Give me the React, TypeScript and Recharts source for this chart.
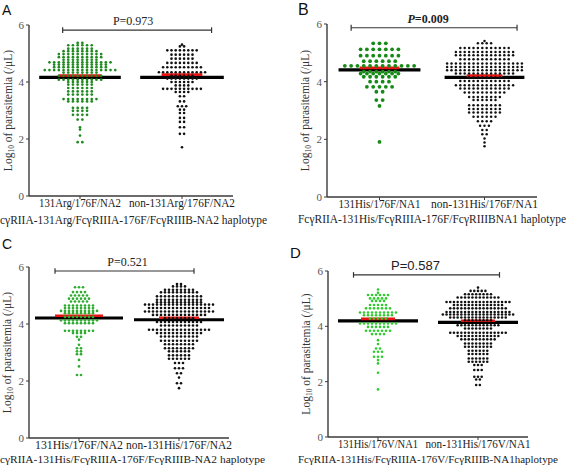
import React from 'react';
import { ScatterChart, Scatter, XAxis, YAxis, ReferenceLine } from 'recharts';

type Row = [number, number]; // [log10 parasitemia, number of subjects in that swarm row]

// ---------- Panel A ----------
const aCategories = ['131Arg/176F/NA2', 'non-131Arg/176F/NA2'];
const aGroup1Rows: Row[] = [
  [5.37, 2], [5.29, 6], [5.17, 6], [5.08, 8], [4.98, 10], [4.87, 10], [4.78, 8], [4.69, 14],
  [4.61, 12], [4.52, 12], [4.42, 16], [4.33, 8], [4.22, 10], [4.08, 10], [4.0, 6], [3.91, 6],
  [3.79, 6], [3.67, 6], [3.56, 6], [3.4, 8], [3.32, 6], [3.09, 4], [2.99, 4], [2.85, 4],
  [2.68, 2], [2.41, 1], [2.33, 1], [2.12, 1], [1.89, 2],
];
const aGroup2Rows: Row[] = [
  [5.31, 1], [5.25, 2], [5.11, 8], [4.96, 6], [4.82, 6], [4.67, 8], [4.52, 10], [4.34, 12],
  [4.22, 6], [4.12, 8], [4.0, 6], [3.88, 4], [3.76, 10], [3.65, 4], [3.5, 2], [3.32, 2],
  [3.15, 3], [3.03, 2], [2.91, 2], [2.74, 2], [2.6, 2], [2.41, 2], [2.18, 2], [1.71, 1],
];
const aMedians = [4.16, 4.16];
const aMeans = [4.23, 4.26];
const aPValue = 'P=0.973';
const aHaplotype = 'cγRIIA-131Arg/FcγRIIIA-176F/FcγRIIIB-NA2 haplotype';

// ---------- Panel B ----------
const bCategories = ['131His/176F/NA1', 'non-131His/176F/NA1'];
const bGroup1Rows: Row[] = [
  [5.33, 3], [5.12, 7], [4.9, 7], [4.71, 6], [4.55, 12], [4.35, 6], [4.28, 7], [4.17, 6],
  [4.0, 4], [3.82, 5], [3.65, 2], [3.36, 2], [3.16, 1], [1.91, 1],
];
const bGroup2Rows: Row[] = [
  [5.41, 1], [5.33, 4], [5.17, 12], [5.03, 14], [4.92, 14], [4.78, 12], [4.63, 18], [4.51, 18],
  [4.4, 18], [4.28, 14], [4.15, 8], [4.02, 12], [3.88, 14], [3.76, 12], [3.62, 10], [3.47, 8],
  [3.36, 6], [3.18, 8], [3.05, 8], [2.93, 8], [2.78, 6], [2.63, 4], [2.47, 3], [2.32, 2],
  [2.18, 2], [2.03, 1], [1.89, 1], [1.76, 1],
];
const bMedians = [4.41, 4.15];
const bMeans = [4.48, 4.21];
const bPValue = '=0.009';
const bHaplotype = 'FcγRIIA-131His/FcγRIIIA-176F/FcγRIIIBNA1 haplotype';

// ---------- Panel C ----------
const cCategories = ['131His/176F/NA2', 'non-131His/176F/NA2'];
const cGroup1Rows: Row[] = [
  [5.29, 3], [5.12, 4], [5.0, 5], [4.89, 6], [4.79, 5], [4.65, 8], [4.56, 8], [4.46, 10],
  [4.38, 8], [4.25, 8], [4.13, 10], [4.03, 8], [3.76, 8], [3.68, 4], [3.55, 2], [3.45, 1],
  [3.27, 1], [3.15, 2], [3.04, 2], [2.94, 2], [2.74, 1], [2.51, 1], [2.21, 2],
];
const cGroup2Rows: Row[] = [
  [5.4, 2], [5.32, 4], [5.2, 8], [5.11, 10], [4.97, 12], [4.85, 12], [4.76, 12], [4.68, 18],
  [4.56, 16], [4.44, 18], [4.32, 14], [4.2, 8], [4.07, 12], [3.95, 10], [3.8, 16], [3.68, 12],
  [3.56, 10], [3.41, 10], [3.29, 8], [3.15, 8], [3.04, 6], [2.9, 6], [2.78, 6], [2.63, 3],
  [2.45, 3], [2.27, 2], [2.12, 1], [1.92, 2], [1.75, 1],
];
const cMedians = [4.21, 4.15];
const cMeans = [4.29, 4.22];
const cPValue = 'P=0.521';
const cHaplotype = 'cγRIIA-131His/FcγRIIIA-176F/FcγRIIIB-NA2  haplotype';

// ---------- Panel D ----------
const dCategories = ['131His/176V/NA1', 'non-131His/176V/NA1'];
const dGroup1Rows: Row[] = [
  [5.33, 1], [5.21, 1], [5.13, 6], [5.01, 5], [4.92, 4], [4.77, 5], [4.65, 7], [4.5, 10],
  [4.4, 8], [4.28, 5], [4.1, 10], [3.98, 6], [3.84, 7], [3.72, 4], [3.5, 1], [3.36, 1],
  [3.2, 2], [3.08, 3], [2.9, 3], [2.78, 1], [2.66, 1], [2.32, 1], [1.72, 1],
];
const dGroup2Rows: Row[] = [
  [5.4, 1], [5.28, 5], [5.16, 8], [5.04, 12], [4.88, 18], [4.77, 14], [4.65, 16], [4.52, 18],
  [4.43, 20], [4.32, 16], [4.22, 8], [4.04, 12], [3.92, 8], [3.77, 16], [3.65, 12], [3.53, 10],
  [3.38, 8], [3.26, 8], [3.12, 6], [3.0, 6], [2.84, 6], [2.72, 6], [2.6, 3], [2.42, 3],
  [2.18, 3], [2.08, 2], [1.88, 2],
];
const dMedians = [4.2, 4.14];
const dMeans = [4.27, 4.2];
const dPValue = 'P=0.587';
const dHaplotype = 'FcγRIIA-131His/FcγRIIIA-176V/FcγRIIIB-NA1haplotype';

const yTicks = [0, 2, 4, 6];
const catTicks = [1, 2];

const SERIF = '"Liberation Serif", "Times New Roman", serif';
const SANS = '"Liberation Sans", Arial, sans-serif';
const AXIS = '#3a3a3a';

function swarm(rows: Row[], cat: number, spacing: number) {
  const pts: { x: number; y: number }[] = [];
  rows.forEach(([v, n]) => {
    for (let i = 0; i < n; i++) pts.push({ x: cat + (i - (n - 1) / 2) * spacing, y: v });
  });
  return pts;
}

interface Group { rows: Row[]; color: string; r: number; spacingPx: number }
interface PanelProps {
  left: number; top: number; width: number; height: number;
  plotLeft: number; plotRight: number; plotTop: number; plotBottom: number;
  categories: string[]; catWidths: number[];
  groups: Group[];
  medians: number[]; means: number[];
  medianHalf: number[]; meanHalf: number[];
  bracketY: number; bracketX: [number, number];
  pLabel: (x: number, y: number) => React.ReactNode;
  yLabelX: number;
}

function Panel(p: PanelProps) {
  const catPx = (p.plotRight - p.plotLeft) / 2;
  const xAxisH = 24;
  return (
    <div style={{ position: 'absolute', left: p.left, top: p.top }}>
      <ScatterChart
        width={p.width}
        height={p.height}
        margin={{ top: p.plotTop, right: p.width - p.plotRight, bottom: p.height - p.plotBottom - xAxisH, left: 0 }}
      >
        <XAxis
          type="number"
          dataKey="x"
          domain={[0.5, 2.5]}
          ticks={catTicks}
          interval={0}
          height={xAxisH}
          tickSize={3}
          tickMargin={2}
          allowDataOverflow
          axisLine={{ stroke: AXIS, strokeWidth: 1.4 }}
          tickLine={{ stroke: AXIS }}
          tick={(t: any) => (
            <text
              x={t.x}
              y={t.y + 6}
              textAnchor="middle"
              fontFamily={SERIF}
              fontSize={11.5}
              fill="#222"
              textLength={p.catWidths[t.payload.value - 1]}
              lengthAdjust="spacingAndGlyphs"
            >
              {p.categories[t.payload.value - 1]}
            </text>
          )}
        />
        <YAxis
          type="number"
          dataKey="y"
          domain={[0, 6]}
          ticks={yTicks}
          interval={0}
          width={p.plotLeft}
          tickSize={3}
          tickMargin={2}
          axisLine={{ stroke: AXIS, strokeWidth: 1.4 }}
          tickLine={{ stroke: AXIS }}
          tick={{ fontFamily: SERIF, fontSize: 11, fill: '#555' }}
          label={(lp: any) => {
            const vb = lp.viewBox || { y: p.plotTop, height: p.plotBottom - p.plotTop };
            const cy = vb.y + vb.height / 2;
            return (
              <text
                x={p.yLabelX}
                y={cy}
                transform={`rotate(-90 ${p.yLabelX} ${cy})`}
                textAnchor="middle"
                dominantBaseline="central"
                fontFamily={SERIF}
                fontSize={11.5}
                fill="#333"
              >
                Log<tspan fontSize={7.5} dy={3}>10</tspan>
                <tspan dy={-3}> of parasitemia (/μL)</tspan>
              </text>
            );
          }}
        />
        {p.groups.map((g, i) => (
          <Scatter
            key={i}
            data={swarm(g.rows, i + 1, g.spacingPx / catPx)}
            fill={g.color}
            isAnimationActive={false}
            shape={(s: any) => <circle cx={s.cx} cy={s.cy} r={g.r} fill={g.color} />}
          />
        ))}
        {p.medians.map((m, i) => (
          <ReferenceLine
            key={'m' + i}
            segment={[{ x: i + 1 - p.medianHalf[i], y: m }, { x: i + 1 + p.medianHalf[i], y: m }]}
            stroke="#000"
            strokeWidth={3.2}
          />
        ))}
        {p.means.map((m, i) => (
          <ReferenceLine
            key={'a' + i}
            segment={[{ x: i + 1 - p.meanHalf[i], y: m }, { x: i + 1 + p.meanHalf[i], y: m }]}
            stroke="#e81414"
            strokeWidth={2.6}
          />
        ))}
        <ReferenceLine
          segment={[{ x: p.bracketX[0], y: p.bracketY }, { x: p.bracketX[1], y: p.bracketY }]}
          stroke="#333"
          strokeWidth={1.2}
          label={(lp: any) => {
            const vb = lp.viewBox || { x: 0, y: 0, width: 0 };
            return p.pLabel(vb.x + vb.width / 2, vb.y - 5);
          }}
        />
        {p.bracketX.map((bx, i) => (
          <ReferenceLine
            key={'t' + i}
            segment={[{ x: bx, y: p.bracketY - 0.1 }, { x: bx, y: p.bracketY + 0.1 }]}
            stroke="#333"
            strokeWidth={1.2}
          />
        ))}
      </ScatterChart>
    </div>
  );
}

const serifP = (txt: string, dx: number) => (x: number, y: number) => (
  <text x={x + dx} y={y} textAnchor="middle" fontFamily={SERIF} fontSize={12} fill="#222">{txt}</text>
);

export default function App() {
  return (
    <div style={{ position: 'absolute', left: 0, top: 0, width: 567, height: 467, background: '#fff', overflow: 'hidden' }}>
      <Panel
        left={0} top={0} width={283} height={233}
        plotLeft={29} plotRight={233} plotTop={25} plotBottom={196}
        categories={aCategories} catWidths={[82, 106]}
        groups={[
          { rows: aGroup1Rows, color: '#1f8a1f', r: 1.35, spacingPx: 4.7 },
          { rows: aGroup2Rows, color: '#111', r: 1.3, spacingPx: 4.2 },
        ]}
        medians={aMedians} means={aMeans} medianHalf={[0.4, 0.41]} meanHalf={[0.21, 0.2]}
        bracketY={5.82} bracketX={[0.83, 2.29]}
        pLabel={serifP(aPValue, -4)}
        yLabelX={8}
      />
      <Panel
        left={283} top={0} width={284} height={233}
        plotLeft={44} plotRight={254} plotTop={24} plotBottom={197}
        categories={bCategories} catWidths={[82, 107]}
        groups={[
          { rows: bGroup1Rows, color: '#168a16', r: 1.9, spacingPx: 6.3 },
          { rows: bGroup2Rows, color: '#111', r: 1.25, spacingPx: 4.4 },
        ]}
        medians={bMedians} means={bMeans} medianHalf={[0.39, 0.38]} meanHalf={[0.19, 0.17]}
        bracketY={5.87} bracketX={[0.73, 2.31]}
        pLabel={(x, y) => (
          <text x={x - 6} y={y} textAnchor="middle" fontFamily={SERIF} fontSize={12} fontWeight="bold" fill="#222">
            <tspan fontStyle="italic">P</tspan>{bPValue}
          </text>
        )}
        yLabelX={22}
      />
      <Panel
        left={0} top={233} width={283} height={234}
        plotLeft={29} plotRight={229} plotTop={34} plotBottom={205}
        categories={cCategories} catWidths={[88, 106]}
        groups={[
          { rows: cGroup1Rows, color: '#2fab2f', r: 1.35, spacingPx: 4.0 },
          { rows: cGroup2Rows, color: '#111', r: 1.3, spacingPx: 4.0 },
        ]}
        medians={cMedians} means={cMeans} medianHalf={[0.44, 0.45]} meanHalf={[0.24, 0.2]}
        bracketY={5.86} bracketX={[0.76, 2.15]}
        pLabel={serifP(cPValue, 3)}
        yLabelX={7}
      />
      <Panel
        left={283} top={233} width={284} height={234}
        plotLeft={45} plotRight={245} plotTop={38} plotBottom={204}
        categories={dCategories} catWidths={[80, 105]}
        groups={[
          { rows: dGroup1Rows, color: '#2ccc2c', r: 1.3, spacingPx: 4.0 },
          { rows: dGroup2Rows, color: '#111', r: 1.3, spacingPx: 3.7 },
        ]}
        medians={dMedians} means={dMeans} medianHalf={[0.4, 0.4]} meanHalf={[0.17, 0.17]}
        bracketY={5.86} bracketX={[0.755, 2.215]}
        pLabel={(x, y) => (
          <text x={x - 11} y={y} textAnchor="middle" fontFamily={SANS} fontSize={13} fill="#222">{dPValue}</text>
        )}
        yLabelX={23}
      />
      <svg width={567} height={467} style={{ position: 'absolute', left: 0, top: 0, pointerEvents: 'none' }}>
        <text x={2} y={15} fontFamily={SANS} fontSize={14} fill="#111">A</text>
        <text x={298} y={15} fontFamily={SANS} fontSize={16} fill="#111">B</text>
        <text x={2} y={249} fontFamily={SANS} fontSize={14} fill="#111">C</text>
        <text x={290} y={258} fontFamily={SANS} fontSize={15} fill="#111">D</text>
        <text x={0} y={224} fontFamily={SERIF} fontSize={11.5} fill="#222" textLength={267} lengthAdjust="spacingAndGlyphs">{aHaplotype}</text>
        <text x={298} y={223} fontFamily={SERIF} fontSize={11.5} fill="#222" textLength={268} lengthAdjust="spacingAndGlyphs">{bHaplotype}</text>
        <text x={0} y={463} fontFamily={SERIF} fontSize={11} fill="#222" textLength={265} lengthAdjust="spacingAndGlyphs">{cHaplotype}</text>
        <text x={298} y={463} fontFamily={SERIF} fontSize={11} fill="#222" textLength={260} lengthAdjust="spacingAndGlyphs">{dHaplotype}</text>
      </svg>
    </div>
  );
}
